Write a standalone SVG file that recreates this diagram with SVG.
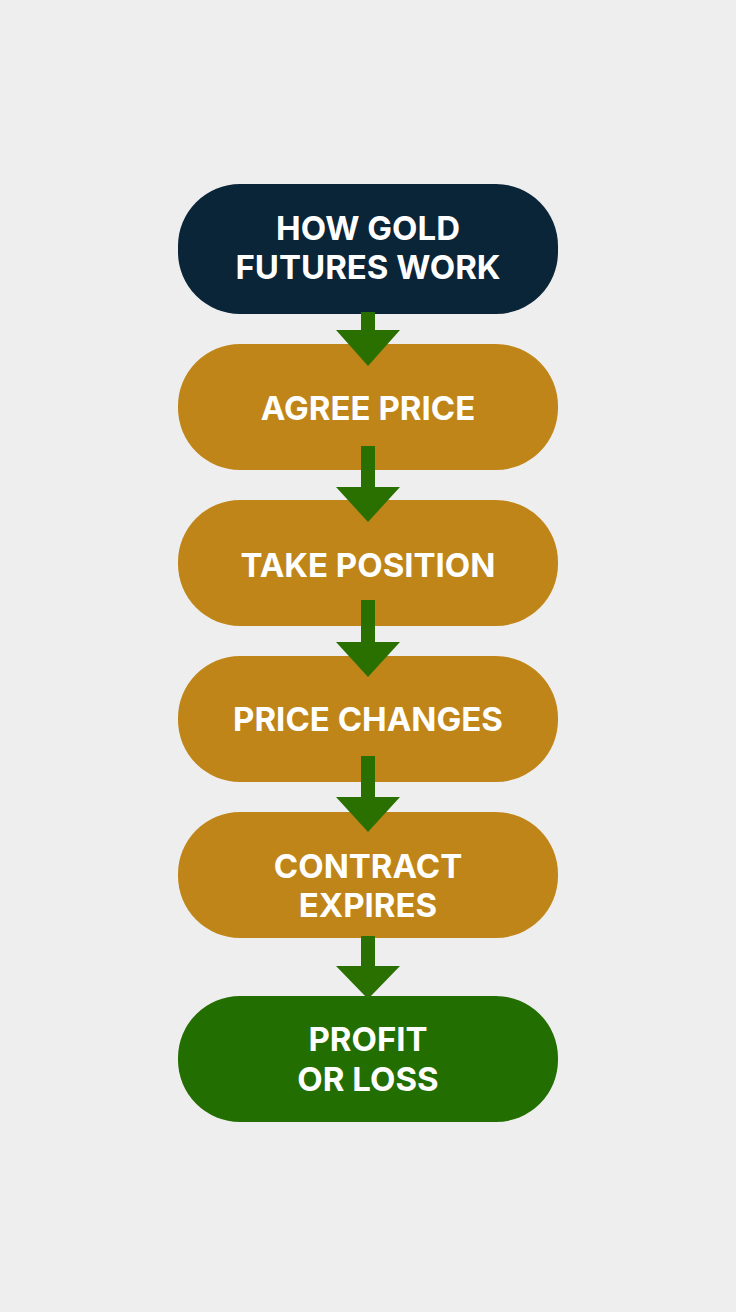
<svg xmlns="http://www.w3.org/2000/svg" width="736" height="1312" viewBox="0 0 736 1312">
<style>
.t{font-family:Inter,"Open Sans",sans-serif;font-weight:700;font-size:33px;fill:#fff;text-anchor:middle}
.g{fill:#c08518}
.a{fill:#2a7000}
</style>
<rect width="736" height="1312" fill="#eeeeee"/>
<g id="n1"><rect x="178" y="184" width="380" height="130" rx="62" fill="#0b2538"/><text class="t" x="368" y="240">HOW GOLD</text><text class="t" x="368" y="279">FUTURES WORK</text></g>
<g id="n2"><rect class="g" x="178" y="344" width="380" height="126" rx="62"/><text class="t" x="368" y="420">AGREE PRICE</text></g>
<g id="n3"><rect class="g" x="178" y="500" width="380" height="126" rx="62"/><text class="t" x="368" y="577">TAKE POSITION</text></g>
<g id="n4"><rect class="g" x="178" y="656" width="380" height="126" rx="62"/><text class="t" x="368" y="731">PRICE CHANGES</text></g>
<g id="n5"><rect class="g" x="178" y="812" width="380" height="126" rx="62"/><text class="t" x="368" y="878">CONTRACT</text><text class="t" x="368" y="917">EXPIRES</text></g>
<g id="n6"><rect x="178" y="996" width="380" height="126" rx="62" fill="#236e00"/><text class="t" x="368" y="1051">PROFIT</text><text class="t" x="368" y="1091">OR LOSS</text></g>
<g id="connectors">
<path class="a" d="M361 312H375V330H400L368 366L336 330H361Z"/>
<path class="a" d="M361 446H375V487H400L368 522L336 487H361Z"/>
<path class="a" d="M361 600H375V642H400L368 677L336 642H361Z"/>
<path class="a" d="M361 756H375V797H400L368 832L336 797H361Z"/>
<path class="a" d="M361 936H375V966H400L368 999L336 966H361Z"/>
</g>
</svg>
